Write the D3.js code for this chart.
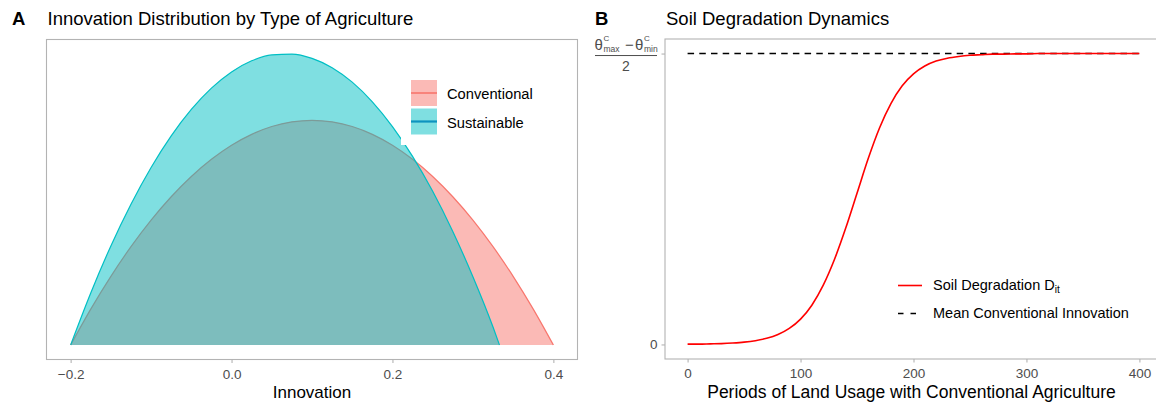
<!DOCTYPE html>
<html>
<head>
<meta charset="utf-8">
<script src="https://cdn.jsdelivr.net/npm/d3@7"></script>
<style>
	body { margin: 0; background: #fff; }
	svg { display: block; font-family: "Liberation Sans", Arial, Helvetica, sans-serif; }
</style>
</head>
<body>
<svg id="chart" width="1156" height="405"></svg>
<script>
// panel A: innovation densities
var convX = [-0.2, -0.175, -0.15, -0.125, -0.1, -0.075, -0.05, -0.025, 0, 0.025, 0.05, 0.075, 0.1,
	0.125, 0.15, 0.175, 0.2, 0.225, 0.25, 0.275, 0.3, 0.325, 0.35, 0.375, 0.4];
var conventional = [0, 0.345, 0.66, 0.945, 1.2, 1.425, 1.62, 1.785, 1.92, 2.025, 2.1, 2.145, 2.16,
	2.145, 2.1, 2.025, 1.92, 1.785, 1.62, 1.425, 1.2, 0.945, 0.66, 0.345, 0];
var sustX = [-0.2, -0.175, -0.15, -0.125, -0.1, -0.075, -0.05, -0.025, 0, 0.025, 0.05, 0.075, 0.1,
	0.125, 0.15, 0.175, 0.2, 0.225, 0.25, 0.275, 0.3, 0.325, 0.333];
var sustainable = [0, 0.5, 0.952, 1.353, 1.706, 2.01, 2.264, 2.469, 2.625, 2.732, 2.789, 2.797, 2.756,
	2.666, 2.527, 2.338, 2.1, 1.813, 1.477, 1.091, 0.656, 0.172, 0];
var innovTicks = [-0.2, 0, 0.2, 0.4];
var typeNames = ['Conventional', 'Sustainable'];

// panel B: soil degradation over periods
var periods = [0, 10, 20, 30, 40, 50, 60, 70, 80, 90, 100, 110, 120, 130, 140, 150, 160, 170, 180, 190, 200,
	210, 220, 230, 240, 250, 260, 270, 280, 290, 300, 310, 320, 330, 340, 350, 360, 370, 380, 390, 400];
var degradation = [0.001, 0.001, 0.002, 0.003, 0.005, 0.008, 0.013, 0.021, 0.034, 0.055, 0.087, 0.135, 0.203,
	0.292, 0.4, 0.52, 0.64, 0.745, 0.828, 0.889, 0.93, 0.957, 0.974, 0.984, 0.99, 0.994, 0.996, 0.998,
	0.998, 0.999, 0.999, 1, 1, 1, 1, 1, 1, 1, 1, 1, 1];
var meanInnovation = 1;
var periodTicks = [0, 100, 200, 300, 400];

var svg = d3.select('#chart');
var GRAY = '#B3B3B3', TXT = '#4D4D4D';

var expand = function(ext) {
	var pad = (ext[1] - ext[0]) * 0.05;
	return [ext[0] - pad, ext[1] + pad];
};

// ---------- panel A ----------
var A = { left: 46.5, right: 577.5, top: 39.5, bottom: 359.5 };
var xA = d3.scaleLinear()
	.domain(expand([d3.min(convX.concat(sustX)), d3.max(convX.concat(sustX))]))
	.range([A.left, A.right]);
var yA = d3.scaleLinear()
	.domain(expand([0, d3.max(conventional.concat(sustainable))]))
	.range([A.bottom, A.top]);

var series = [
	{ name: typeNames[0], xs: convX, ys: conventional, fill: '#F8766D', line: '#F8766D' },
	{ name: typeNames[1], xs: sustX, ys: sustainable, fill: '#00BFC4', line: '#00BFC4' }
];

var area = d3.area()
	.x(function (d) { return xA(d[0]); })
	.y0(yA(0))
	.y1(function (d) { return yA(d[1]); })
	.curve(d3.curveMonotoneX);
var line = d3.line()
	.x(function (d) { return xA(d[0]); })
	.y(function (d) { return yA(d[1]); })
	.curve(d3.curveMonotoneX);

var gA = svg.append('g');
series.forEach(function (s) {
	var pts = s.xs.map(function (x, i) { return [x, s.ys[i]]; });
	gA.append('path')
		.attr('d', area(pts))
		.attr('fill', s.fill)
		.attr('fill-opacity', 0.5);
	gA.append('path')
		.attr('d', line(pts))
		.attr('fill', 'none')
		.attr('stroke', s.line)
		.attr('stroke-width', 1.2);
});

gA.append('rect')
	.attr('x', A.left).attr('y', A.top)
	.attr('width', A.right - A.left).attr('height', A.bottom - A.top)
	.attr('fill', 'none').attr('stroke', GRAY).attr('stroke-width', 1.1);

var axA = gA.append('g')
	.attr('transform', 'translate(0,' + A.bottom + ')')
	.call(d3.axisBottom(xA).tickValues(innovTicks).tickSize(3.5).tickPadding(6)
		.tickFormat(function (d) { return d3.format('.1f')(d).replace('-', '\u2212'); }));

// legend A
var legA = gA.append('g');
legA.append('rect')
	.attr('x', 401).attr('y', 72).attr('width', 140).attr('height', 73)
	.attr('fill', '#fff');
var keyLine = ['#F8766D', '#0E93BF'];
series.forEach(function (s, i) {
	var ky = 80 + i * 28.5;
	legA.append('rect')
		.attr('x', 411).attr('y', ky).attr('width', 26).attr('height', 26)
		.attr('fill', s.fill).attr('fill-opacity', 0.5);
	legA.append('line')
		.attr('x1', 411).attr('x2', 437).attr('y1', ky + 13).attr('y2', ky + 13)
		.attr('stroke', keyLine[i]).attr('stroke-width', i ? 2.2 : 1.6);
	legA.append('text')
		.attr('x', 447).attr('y', ky + 19)
		.attr('font-size', 14.7).attr('fill', '#000')
		.text(s.name);
});

// ---------- panel B ----------
var B = { left: 665, right: 1162, top: 39, bottom: 359 };
var xB = d3.scaleLinear()
	.domain(expand(d3.extent(periods)))
	.range([B.left, B.right]);
var yB = d3.scaleLinear()
	.domain(expand([0, meanInnovation]))
	.range([B.bottom, B.top]);

var gB = svg.append('g');
gB.append('line')
	.attr('x1', xB(periods[0])).attr('x2', xB(periods[periods.length - 1]))
	.attr('y1', yB(meanInnovation)).attr('y2', yB(meanInnovation))
	.attr('stroke', '#000').attr('stroke-width', 1.4)
	.attr('stroke-dasharray', '6.5,5.2');

gB.append('path')
	.datum(periods.map(function (p, i) { return [p, degradation[i]]; }))
	.attr('d', d3.line()
		.x(function (d) { return xB(d[0]); })
		.y(function (d) { return yB(d[1]); })
		.curve(d3.curveMonotoneX))
	.attr('fill', 'none')
	.attr('stroke', '#FF0000')
	.attr('stroke-width', 1.6);

gB.append('rect')
	.attr('x', B.left).attr('y', B.top)
	.attr('width', B.right - B.left).attr('height', B.bottom - B.top)
	.attr('fill', 'none').attr('stroke', GRAY).attr('stroke-width', 1.1);

var axB = gB.append('g')
	.attr('transform', 'translate(0,' + B.bottom + ')')
	.call(d3.axisBottom(xB).tickValues(periodTicks).tickSize(3.5).tickPadding(6));
var ayB = gB.append('g')
	.attr('transform', 'translate(' + B.left + ',0)')
	.call(d3.axisLeft(yB).tickValues([0, meanInnovation]).tickSize(3.5).tickPadding(4)
		.tickFormat(function (d) { return d === 0 ? '0' : ''; }));

[axA, axB, ayB].forEach(function (ax) {
	ax.select('.domain').remove();
	ax.selectAll('.tick line').attr('stroke', GRAY).attr('stroke-width', 1.1);
	ax.selectAll('.tick text')
		.attr('fill', TXT)
		.attr('font-size', 13.5)
		.attr('font-family', '"Liberation Sans", Arial, sans-serif');
});

// fraction label for the top y tick
var fy = yB(meanInnovation);
var frac = gB.append('g').attr('fill', TXT).attr('font-size', 15);
frac.append('text').attr('x', 594.5).attr('y', fy - 4).text('\u03b8');
frac.append('text').attr('x', 603.5).attr('y', fy - 12.5).attr('font-size', 8).text('C');
frac.append('text').attr('x', 603.5).attr('y', fy - 1.5).attr('font-size', 8.5).text('max');
frac.append('text').attr('x', 625).attr('y', fy - 4).text('\u2212');
frac.append('text').attr('x', 635).attr('y', fy - 4).text('\u03b8');
frac.append('text').attr('x', 644).attr('y', fy - 12.5).attr('font-size', 8).text('C');
frac.append('text').attr('x', 644).attr('y', fy - 1.5).attr('font-size', 8.5).text('min');
frac.append('line')
	.attr('x1', 595).attr('x2', 657).attr('y1', fy + 2).attr('y2', fy + 2)
	.attr('stroke', TXT).attr('stroke-width', 1);
frac.append('text').attr('x', 626).attr('y', fy + 17.5).attr('text-anchor', 'middle').attr('font-size', 14).text('2');

// legend B
var legB = gB.append('g').attr('font-size', 14.5);
legB.append('line')
	.attr('x1', 898).attr('x2', 922).attr('y1', 285.5).attr('y2', 285.5)
	.attr('stroke', '#FF0000').attr('stroke-width', 1.6);
var t1 = legB.append('text').attr('x', 933).attr('y', 290);
t1.append('tspan').text('Soil Degradation D');
t1.append('tspan').attr('font-size', 10).attr('dy', 3).text('it');
legB.append('line')
	.attr('x1', 898).attr('x2', 922).attr('y1', 313.5).attr('y2', 313.5)
	.attr('stroke', '#000').attr('stroke-width', 1.4)
	.attr('stroke-dasharray', '5.5,7');
legB.append('text').attr('x', 933).attr('y', 318).text('Mean Conventional Innovation');

// ---------- titles ----------
var titles = [
	{ tag: 'A', tx: 12, x: 47.5, text: 'Innovation Distribution by Type of Agriculture' },
	{ tag: 'B', tx: 595, x: 666, text: 'Soil Degradation Dynamics' }
];
titles.forEach(function (t) {
	svg.append('text').attr('x', t.tx).attr('y', 25)
		.attr('font-size', 18.5).attr('font-weight', 'bold').text(t.tag);
	svg.append('text').attr('x', t.x).attr('y', 25)
		.attr('font-size', 18.5).text(t.text);
});

svg.append('text')
	.attr('x', (A.left + A.right) / 2).attr('y', 398)
	.attr('text-anchor', 'middle').attr('font-size', 17)
	.text('Innovation');
svg.append('text')
	.attr('x', (B.left + B.right) / 2 - 2).attr('y', 398)
	.attr('text-anchor', 'middle').attr('font-size', 17.5)
	.text('Periods of Land Usage with Conventional Agriculture');
</script>
</body>
</html>
